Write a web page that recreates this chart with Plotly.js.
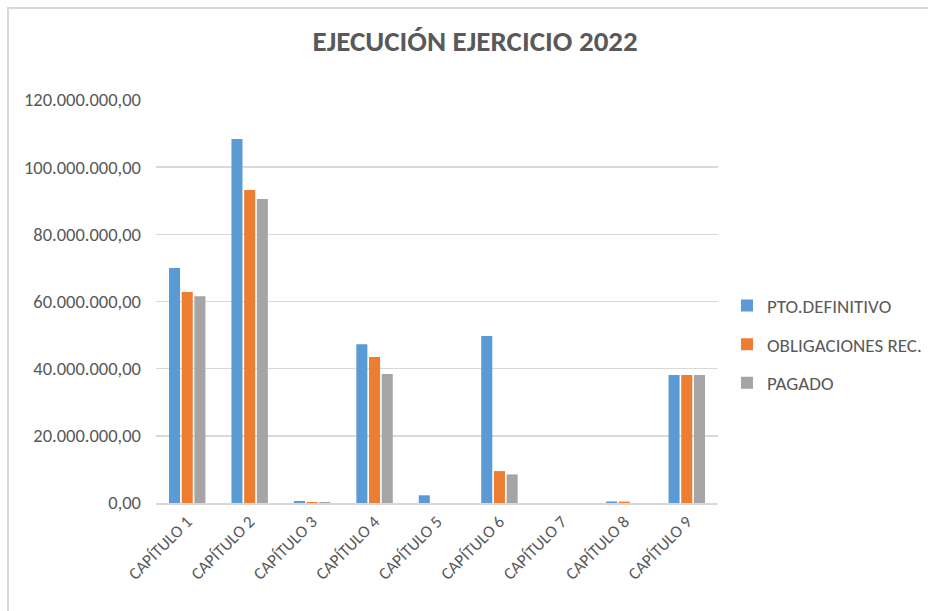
<!DOCTYPE html>
<html>
<head>
<meta charset="utf-8">
<script src="https://cdn.plot.ly/plotly-3.0.1.min.js"></script>
<style>
  html, body { margin: 0; padding: 0; background: #fff; }
  #wrap { position: relative; width: 928px; height: 611px; overflow: hidden; }
  #chart { position: absolute; left: 0; top: 0; width: 928px; height: 611px; }
  #frame { position: absolute; left: 7px; top: 7px; width: 940px; height: 640px;
           border-top: 2px solid #d9d9d9; border-left: 2px solid #d9d9d9; pointer-events: none; }
</style>
</head>
<body>
<div id="wrap"><div id="chart"></div><div id="frame"></div></div>
<script>
const categories = ["CAPÍTULO 1","CAPÍTULO 2","CAPÍTULO 3","CAPÍTULO 4","CAPÍTULO 5","CAPÍTULO 6","CAPÍTULO 7","CAPÍTULO 8","CAPÍTULO 9"];
const seriesNames = ["PTO.DEFINITIVO","OBLIGACIONES REC.","PAGADO"];
const ptoDefinitivo = [70000000, 108400000, 600000, 47300000, 2300000, 49700000, 0, 450000, 38100000];
const obligacionesRec = [62800000, 93200000, 300000, 43500000, 0, 9500000, 0, 400000, 38100000];
const pagado = [61600000, 90500000, 300000, 38400000, 0, 8500000, 0, 0, 38100000];
const colors = ["#5B9BD5", "#ED7D31", "#A5A5A5"];
const yTicks = [0, 20000000, 40000000, 60000000, 80000000, 100000000, 120000000];

const font = "Carlito, 'Liberation Sans Narrow', 'Open Sans', sans-serif";
const values = [ptoDefinitivo, obligacionesRec, pagado];
const data = values.map((v, i) => ({
  type: "bar",
  name: seriesNames[i],
  x: categories,
  y: v,
  marker: { color: colors[i] },
  legendgroup: "g" + i
}));

const layout = {
  width: 928, height: 611,
  margin: { l: 156, r: 210, t: 100, b: 108, autoexpand: false },
  paper_bgcolor: "rgba(0,0,0,0)",
  plot_bgcolor: "#fff",
  separators: ",.",
  title: { text: "<b>EJECUCIÓN EJERCICIO 2022</b>", x: 0.512, xref: "container", y: 0.933, yanchor: "middle",
           font: { family: font, size: 29, color: "#595959" } },
  bargap: 0.39,
  bargroupgap: 0.13,
  showlegend: true,
  legend: { x: 1.016, xanchor: "left", y: 0.393, yanchor: "middle", traceorder: "grouped", tracegroupgap: 11,
            font: { family: font, size: 19, color: "#595959" }, itemwidth: 30 },
  xaxis: { type: "category", tickangle: -45, showgrid: false, showline: true, linecolor: "#d9d9d9", linewidth: 2,
           ticks: "", tickfont: { family: font, size: 17, color: "#595959" } },
  yaxis: { range: [0, 120000000], tickvals: yTicks, tickformat: ",.2f", showgrid: true, gridcolor: "#d9d9d9", gridwidth: 1.5,
           zeroline: false, showline: false, ticks: "", ticklabelstandoff: 14,
           tickfont: { family: font, size: 18.5, color: "#595959" } }
};
Plotly.newPlot("chart", data, layout, { displayModeBar: false, staticPlot: true });
</script>
</body>
</html>
